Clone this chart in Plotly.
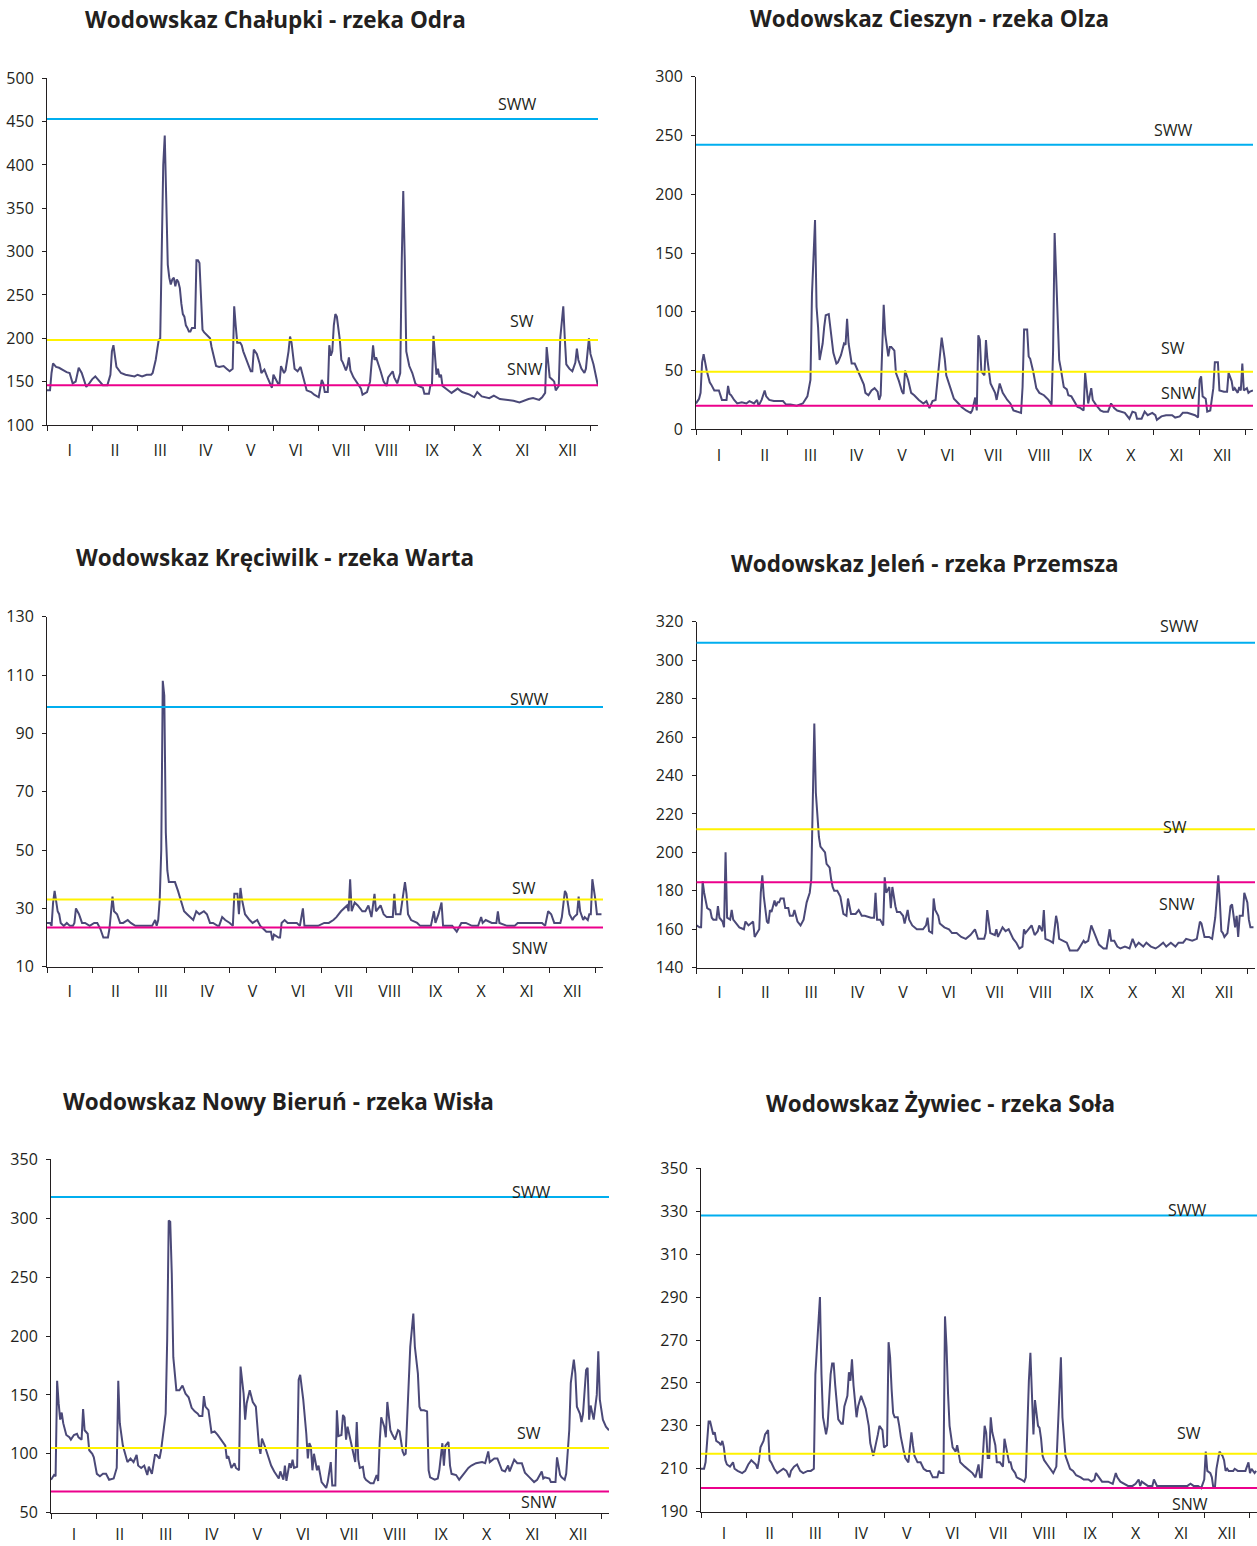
import plotly.graph_objects as go

MONTHS = ["I", "II", "III", "IV", "V", "VI", "VII", "VIII", "IX", "X", "XI", "XII"]
MONTH_CENTERS = [15, 45, 75, 105, 135, 165, 195, 225, 255, 285, 315, 345]
MONTH_BOUNDS = [0, 30, 60, 90, 120, 150, 180, 210, 240, 270, 300, 330, 360]

# ---------------- Chałupki - Odra ----------------
odra_days = [0, 2, 3, 4, 6, 8, 11, 13, 15, 17, 19, 21, 23, 26, 28, 30, 32, 34, 37, 40, 42, 43, 44, 46, 49, 52, 55, 58, 60, 63, 66, 69, 70, 72, 74, 75, 76, 77, 78, 79, 80, 81, 82, 83, 84, 85, 86, 87, 88, 89, 90, 91, 92, 93, 94, 95, 96, 97, 98, 99, 100, 101, 102, 103, 104, 105, 107, 108, 109, 110, 111, 112, 114, 117, 119, 121, 123, 124, 125, 126, 128, 129, 130, 132, 133, 135, 136, 137, 139, 141, 142, 144, 146, 148, 149, 150, 151, 153, 154, 155, 157, 158, 160, 161, 162, 164, 166, 168, 169, 171, 172, 175, 177, 180, 181, 182, 183, 184, 186, 187, 188, 189, 190, 191, 192, 194, 195, 196, 198, 199, 200, 201, 203, 206, 208, 209, 212, 214, 216, 217, 218, 221, 223, 225, 226, 229, 230, 232, 234, 235, 236, 237, 238, 240, 242, 244, 246, 249, 250, 253, 254, 255, 256, 258, 259, 260, 261, 262, 266, 268, 272, 275, 280, 283, 285, 288, 293, 296, 300, 304, 309, 313, 316, 319, 322, 326, 328, 330, 331, 332, 333, 335, 336, 337, 339, 340, 342, 343, 344, 346, 348, 350, 351, 352, 354, 356, 357, 359, 360, 362, 364, 365]
odra_level = [140, 140, 160, 171, 167, 166, 163, 161, 160, 148, 150, 166, 160, 144, 148, 153, 156, 152, 146, 146, 158, 185, 192, 167, 160, 158, 157, 156, 158, 156, 158, 158, 160, 175, 198, 200, 300, 400, 434, 360, 285, 270, 262, 268, 270, 260, 268, 265, 258, 240, 228, 225, 215, 212, 208, 208, 212, 212, 212, 290, 290, 287, 245, 210, 207, 205, 202, 200, 190, 182, 178, 168, 167, 168, 165, 162, 165, 237, 215, 195, 195, 192, 185, 175, 170, 162, 162, 187, 182, 170, 160, 164, 155, 148, 143, 158, 155, 148, 148, 168, 160, 163, 185, 202, 195, 165, 162, 167, 160, 148, 140, 138, 135, 132, 140, 152, 148, 138, 138, 192, 180, 185, 215, 228, 225, 198, 175, 172, 163, 168, 178, 163, 155, 148, 142, 135, 138, 150, 192, 175, 178, 162, 150, 145, 155, 162, 155, 148, 160, 290, 370, 290, 185, 168, 160, 148, 145, 143, 136, 136, 146, 146, 203, 158, 165, 155, 158, 145, 140, 137, 142, 138, 135, 132, 138, 133, 131, 134, 130, 129, 128, 126, 128, 130, 131, 129, 132, 137, 190, 170, 155, 152, 150, 140, 145, 200, 237, 200, 170, 165, 162, 172, 188, 175, 165, 160, 165, 200, 182, 170, 155, 145]
odra_refs = [453, 198, 146]  # SWW, SW, SNW

# ---------------- Cieszyn - Olza ----------------
olza_days = [0, 2, 3, 4, 5, 6, 7, 8, 9, 10, 12, 15, 16, 17, 20, 21, 22, 23, 25, 27, 30, 33, 35, 38, 40, 41, 43, 45, 46, 48, 51, 57, 59, 62, 66, 70, 73, 74, 75, 76, 77, 78, 79, 80, 81, 82, 83, 84, 85, 87, 88, 89, 90, 92, 93, 95, 97, 98, 99, 100, 101, 102, 104, 106, 108, 110, 111, 113, 115, 117, 119, 120, 121, 123, 124, 126, 127, 128, 130, 131, 133, 135, 136, 137, 139, 141, 143, 146, 149, 151, 153, 155, 157, 158, 160, 161, 163, 164, 167, 169, 172, 174, 177, 180, 181, 183, 184, 185, 186, 187, 189, 190, 191, 193, 196, 197, 199, 201, 204, 206, 208, 211, 213, 214, 215, 217, 218, 219, 221, 223, 225, 228, 231, 233, 234, 235, 237, 238, 239, 241, 243, 244, 246, 249, 250, 252, 254, 255, 256, 257, 259, 260, 262, 265, 267, 270, 272, 274, 276, 279, 281, 284, 286, 288, 289, 292, 294, 296, 299, 301, 302, 305, 308, 312, 314, 317, 319, 322, 324, 327, 329, 330, 331, 332, 334, 335, 337, 338, 339, 340, 342, 343, 346, 348, 349, 351, 352, 353, 355, 356, 357, 358, 359, 361, 362, 363, 365]
olza_level = [22, 26, 31, 57, 64, 55, 50, 45, 40, 38, 33, 33, 29, 25, 25, 37, 30, 29, 25, 22, 23, 22, 24, 22, 25, 20, 25, 33, 28, 25, 24, 24, 21, 21, 20, 22, 28, 35, 42, 115, 155, 178, 104, 87, 59, 67, 73, 87, 97, 98, 87, 81, 65, 56, 57, 63, 73, 72, 94, 73, 65, 56, 56, 50, 45, 38, 31, 29, 33, 35, 32, 25, 29, 106, 81, 62, 70, 70, 67, 48, 41, 32, 30, 50, 42, 31, 29, 25, 22, 24, 18, 24, 25, 38, 62, 78, 60, 46, 34, 26, 22, 19, 16, 14, 16, 27, 16, 80, 76, 49, 46, 76, 59, 39, 31, 25, 39, 31, 25, 22, 16, 15, 14, 36, 85, 85, 62, 60, 49, 35, 31, 29, 25, 21, 67, 167, 87, 59, 52, 36, 34, 29, 28, 22, 19, 18, 16, 48, 34, 22, 35, 25, 21, 16, 15, 15, 22, 18, 16, 15, 14, 9, 15, 14, 9, 9, 15, 12, 14, 12, 8, 11, 12, 12, 10, 11, 14, 14, 13, 12, 10, 42, 45, 28, 26, 15, 16, 28, 35, 57, 57, 33, 32, 32, 48, 41, 33, 35, 31, 36, 33, 56, 33, 35, 31, 32, 33]
olza_refs = [242, 49, 20]

# ---------------- Kręciwilk - Warta ----------------
warta_days = [0, 2, 3, 4, 5, 6, 7, 8, 9, 11, 13, 15, 17, 18, 19, 21, 23, 25, 28, 31, 33, 35, 37, 40, 41, 43, 44, 46, 48, 50, 53, 55, 58, 63, 69, 71, 72, 73, 74, 75, 76, 77, 78, 79, 80, 82, 84, 86, 87, 88, 90, 92, 94, 96, 98, 100, 103, 105, 107, 109, 112, 113, 115, 117, 120, 122, 123, 125, 126, 127, 128, 129, 130, 133, 135, 138, 140, 142, 144, 147, 148, 149, 152, 153, 154, 156, 158, 160, 164, 166, 168, 169, 173, 178, 182, 185, 188, 190, 193, 195, 197, 198, 199, 200, 202, 204, 207, 209, 211, 213, 215, 216, 219, 221, 223, 227, 228, 229, 232, 235, 236, 237, 239, 243, 245, 248, 252, 254, 255, 257, 259, 260, 262, 266, 269, 270, 272, 275, 279, 283, 285, 286, 288, 292, 295, 296, 297, 302, 307, 309, 315, 320, 325, 327, 329, 331, 333, 337, 338, 340, 341, 343, 345, 346, 348, 349, 350, 352, 353, 355, 356, 357, 358, 360, 361, 363, 364]
warta_level = [25, 25, 24, 32, 36, 33, 29, 28, 25, 24, 25, 24, 24, 25, 30, 28, 25, 25, 24, 25, 25, 23, 20, 20, 23, 34, 29, 28, 25, 25, 26, 25, 24, 24, 24, 26, 24, 26, 33, 50, 108, 103, 56, 43, 39, 39, 39, 36, 34, 32, 29, 28, 27, 26, 29, 28, 29, 28, 25, 25, 24, 24, 27, 26, 25, 24, 35, 35, 28, 37, 33, 31, 28, 26, 25, 26, 24, 23, 22, 22, 19, 21, 20, 20, 25, 26, 25, 25, 25, 24, 30, 24, 24, 24, 25, 25, 26, 27, 29, 30, 31, 29, 40, 29, 32, 31, 29, 29, 31, 27, 35, 29, 31, 28, 27, 27, 35, 28, 28, 39, 35, 28, 26, 25, 24, 24, 24, 29, 25, 28, 32, 24, 24, 24, 22, 23, 25, 25, 24, 24, 27, 25, 26, 25, 25, 29, 25, 24, 24, 25, 25, 25, 25, 24, 29, 28, 25, 25, 27, 36, 35, 28, 26, 27, 28, 34, 29, 26, 27, 26, 28, 28, 40, 33, 28, 28, 28]
warta_refs = [99, 33, 23.4]

# ---------------- Jeleń - Przemsza ----------------
przemsza_days = [0, 2, 3, 4, 5, 6, 7, 9, 10, 11, 13, 14, 15, 17, 18, 19, 20, 22, 23, 24, 26, 28, 31, 32, 34, 37, 38, 40, 41, 42, 43, 44, 46, 47, 48, 49, 51, 52, 53, 54, 55, 57, 58, 60, 61, 63, 64, 66, 68, 70, 71, 72, 74, 75, 76, 77, 78, 79, 80, 81, 84, 85, 87, 88, 89, 90, 92, 94, 96, 98, 99, 101, 104, 106, 108, 110, 114, 116, 117, 118, 120, 122, 123, 124, 126, 127, 128, 130, 131, 133, 135, 136, 138, 139, 141, 144, 148, 150, 151, 152, 154, 155, 156, 158, 159, 162, 165, 167, 170, 173, 176, 179, 181, 182, 184, 188, 189, 190, 192, 195, 196, 197, 200, 201, 202, 204, 205, 207, 209, 211, 213, 214, 215, 217, 219, 221, 223, 224, 226, 227, 228, 231, 233, 235, 236, 237, 240, 242, 244, 247, 249, 250, 253, 254, 256, 258, 259, 261, 263, 266, 268, 270, 271, 273, 275, 277, 280, 283, 285, 287, 289, 292, 294, 297, 300, 302, 305, 307, 310, 313, 315, 318, 320, 324, 327, 329, 330, 332, 335, 337, 339, 340, 341, 342, 343, 344, 345, 347, 348, 349, 350, 352, 353, 354, 355, 357, 358, 360, 361, 362, 364]
przemsza_level = [162, 161, 161, 185, 179, 174, 171, 170, 166, 165, 165, 172, 166, 164, 161, 200, 166, 165, 170, 165, 163, 161, 160, 164, 162, 164, 156, 159, 160, 179, 188, 177, 164, 163, 170, 169, 175, 172, 174, 174, 176, 176, 171, 171, 167, 167, 170, 164, 162, 165, 170, 174, 179, 186, 227, 267, 231, 219, 208, 203, 200, 194, 192, 186, 182, 180, 180, 177, 168, 167, 176, 168, 168, 170, 167, 167, 166, 166, 179, 165, 165, 162, 187, 179, 182, 171, 182, 172, 169, 169, 167, 163, 170, 165, 162, 160, 160, 162, 166, 159, 158, 176, 170, 167, 163, 161, 160, 158, 158, 156, 155, 157, 159, 160, 155, 155, 158, 170, 158, 157, 160, 156, 161, 160, 159, 160, 158, 155, 153, 150, 151, 160, 158, 160, 162, 157, 159, 162, 159, 170, 155, 154, 153, 167, 163, 155, 154, 153, 149, 149, 149, 150, 154, 153, 154, 162, 160, 156, 152, 150, 150, 160, 154, 154, 151, 150, 151, 150, 155, 151, 153, 151, 153, 151, 150, 151, 153, 151, 153, 151, 153, 153, 155, 154, 155, 164, 163, 156, 156, 155, 166, 176, 188, 175, 159, 158, 156, 158, 166, 172, 173, 161, 167, 156, 167, 167, 179, 174, 165, 161, 161]
przemsza_refs = [309, 212, 184.5]

# ---------------- Nowy Bieruń - Wisła ----------------
wisla_days = [0, 2, 3, 4, 5, 6, 7, 8, 10, 12, 13, 15, 17, 18, 20, 21, 22, 24, 25, 27, 28, 30, 32, 34, 36, 38, 41, 43, 44, 45, 47, 49, 50, 52, 54, 56, 57, 59, 61, 63, 64, 66, 68, 69, 71, 72, 73, 75, 76, 77, 78, 79, 80, 82, 84, 86, 88, 90, 92, 94, 96, 97, 99, 100, 101, 103, 105, 107, 109, 111, 114, 115, 116, 118, 120, 121, 123, 124, 126, 127, 128, 130, 132, 134, 136, 137, 138, 140, 142, 144, 146, 149, 150, 152, 153, 154, 156, 157, 158, 159, 161, 162, 163, 165, 167, 168, 169, 170, 171, 172, 174, 175, 177, 179, 180, 181, 183, 184, 186, 187, 188, 190, 191, 192, 193, 194, 196, 197, 198, 199, 200, 201, 202, 204, 205, 206, 209, 211, 213, 214, 215, 216, 218, 219, 220, 222, 223, 225, 227, 228, 230, 231, 232, 233, 235, 237, 238, 240, 241, 242, 244, 246, 247, 248, 251, 253, 254, 256, 257, 258, 260, 261, 262, 265, 267, 270, 273, 275, 278, 282, 284, 286, 287, 290, 292, 295, 297, 299, 300, 303, 305, 308, 310, 313, 316, 318, 321, 322, 323, 326, 327, 330, 331, 333, 334, 336, 337, 339, 340, 342, 343, 344, 346, 347, 348, 350, 351, 352, 353, 355, 356, 357, 358, 359, 361, 363, 365]
wisla_level = [78, 82, 81, 162, 143, 129, 135, 126, 116, 114, 112, 116, 117, 114, 112, 138, 120, 117, 103, 100, 97, 83, 81, 83, 83, 78, 79, 88, 162, 126, 107, 99, 93, 96, 93, 99, 90, 88, 90, 82, 89, 83, 99, 99, 96, 103, 113, 134, 197, 298, 297, 253, 182, 154, 154, 158, 151, 148, 139, 136, 134, 132, 132, 149, 140, 137, 118, 119, 116, 112, 107, 96, 98, 88, 92, 88, 86, 174, 151, 129, 143, 154, 144, 140, 107, 100, 113, 106, 98, 90, 85, 79, 85, 78, 90, 77, 92, 88, 95, 88, 89, 163, 167, 146, 117, 96, 109, 106, 86, 100, 86, 90, 76, 72, 71, 76, 93, 73, 73, 137, 115, 116, 133, 131, 112, 123, 110, 103, 99, 93, 127, 95, 88, 89, 80, 78, 75, 75, 82, 77, 110, 131, 123, 114, 144, 120, 117, 112, 120, 119, 102, 99, 100, 131, 191, 219, 191, 168, 140, 137, 137, 136, 86, 80, 78, 79, 86, 109, 90, 107, 110, 90, 83, 82, 78, 83, 88, 90, 92, 93, 92, 102, 93, 96, 96, 86, 85, 90, 85, 95, 92, 92, 84, 80, 76, 78, 85, 79, 80, 79, 76, 76, 97, 82, 80, 78, 83, 120, 160, 180, 168, 140, 134, 127, 134, 171, 173, 129, 141, 129, 140, 150, 187, 146, 129, 123, 120]
wisla_refs = [318, 105, 68]

# ---------------- Żywiec - Soła ----------------
sola_days = [0, 2, 3, 4, 5, 6, 8, 9, 10, 12, 13, 14, 15, 16, 17, 19, 21, 22, 24, 27, 29, 31, 33, 36, 37, 38, 39, 41, 42, 44, 45, 46, 48, 50, 52, 54, 56, 58, 59, 61, 63, 65, 67, 70, 72, 74, 75, 77, 78, 79, 80, 82, 83, 84, 85, 86, 87, 88, 89, 90, 92, 93, 94, 96, 97, 98, 99, 100, 102, 103, 105, 106, 108, 110, 111, 113, 114, 116, 117, 119, 120, 122, 123, 124, 125, 126, 127, 129, 130, 131, 133, 134, 136, 138, 139, 140, 142, 144, 146, 148, 150, 152, 155, 156, 157, 159, 160, 161, 162, 163, 165, 167, 168, 169, 170, 173, 176, 178, 180, 181, 182, 183, 184, 186, 187, 188, 189, 190, 191, 193, 194, 196, 198, 199, 201, 202, 203, 204, 206, 207, 210, 212, 213, 214, 215, 216, 218, 219, 220, 221, 222, 223, 224, 225, 227, 229, 231, 233, 234, 236, 237, 238, 239, 240, 242, 244, 246, 249, 251, 254, 256, 258, 259, 261, 263, 267, 270, 272, 273, 275, 278, 280, 283, 285, 287, 288, 289, 291, 293, 296, 297, 299, 301, 305, 310, 315, 319, 321, 323, 326, 328, 329, 330, 331, 332, 334, 335, 336, 337, 338, 340, 342, 343, 344, 345, 346, 348, 349, 350, 352, 353, 355, 357, 359, 360, 361, 363, 364]
sola_level = [210, 210, 213, 225, 232, 232, 226, 227, 223, 222, 221, 223, 220, 214, 212, 211, 213, 210, 209, 208, 209, 212, 214, 212, 210, 214, 220, 223, 226, 228, 214, 213, 210, 208, 209, 210, 209, 206, 209, 211, 212, 209, 208, 209, 209, 210, 254, 282, 290, 254, 234, 226, 230, 242, 254, 259, 259, 249, 240, 233, 231, 231, 239, 244, 255, 251, 261, 249, 234, 239, 244, 242, 238, 230, 222, 216, 219, 226, 230, 228, 220, 221, 269, 262, 247, 236, 234, 234, 230, 225, 218, 215, 213, 227, 221, 216, 213, 213, 210, 209, 209, 206, 206, 209, 208, 208, 281, 267, 245, 230, 220, 218, 221, 217, 213, 211, 209, 208, 206, 209, 212, 206, 206, 230, 227, 215, 215, 234, 227, 221, 213, 213, 211, 224, 216, 213, 213, 210, 208, 206, 205, 204, 206, 231, 251, 264, 226, 242, 237, 230, 229, 224, 216, 214, 212, 210, 208, 211, 227, 262, 234, 223, 216, 214, 210, 209, 207, 206, 205, 205, 204, 205, 208, 206, 204, 204, 203, 208, 206, 204, 203, 202, 202, 203, 205, 202, 204, 203, 202, 202, 205, 202, 202, 202, 202, 202, 202, 203, 202, 202, 201, 203, 205, 218, 209, 208, 206, 201, 201, 210, 218, 216, 214, 209, 210, 209, 209, 209, 210, 209, 209, 209, 209, 213, 208, 210, 208, 209]
sola_refs = [328, 217, 201]

REF_NAMES = ["SWW", "SW", "SNW"]

# ---------------- styling ----------------
FONT = "Open Sans"
TXT = "#231f20"
DATA_COLOR = "#4b4978"
REF_COLORS = ["#00aeef", "#fff200", "#ec008c"]
W, H = 1257, 1546

panels = [
    dict(title="Wodowskaz Chałupki - rzeka Odra", days=odra_days, level=odra_level, refs=odra_refs,
         px=(47, 598), py=(78.3, 425), yr=(100, 500), dt=50, xmax=365, tpos=(275, 20), so=11,
         lab=[(312, 470), (314.6, 220), (316.6, 164.7)]),
    dict(title="Wodowskaz Cieszyn - rzeka Olza", days=olza_days, level=olza_level, refs=olza_refs,
         px=(696, 1253), py=(76.7, 429.3), yr=(0, 300), dt=50, xmax=365, tpos=(929, 18), so=11,
         lab=[(313, 254.6), (312.4, 69.2), (316.5, 30.9)]),
    dict(title="Wodowskaz Kręciwilk - rzeka Warta", days=warta_days, level=warta_level, refs=warta_refs,
         px=(47, 603), py=(616.7, 966.7), yr=(10, 130), dt=20, xmax=365, tpos=(275, 558), so=10,
         lab=[(317, 101.8), (313, 37), (317, 16.4)]),
    dict(title="Wodowskaz Jeleń - rzeka Przemsza", days=przemsza_days, level=przemsza_level, refs=przemsza_refs,
         px=(696.5, 1255), py=(621.7, 967.7), yr=(140, 320), dt=20, xmax=365, tpos=(925, 563), so=10,
         lab=[(315.4, 317.8), (312.7, 213.2), (314, 173.1)]),
    dict(title="Wodowskaz Nowy Bieruń - rzeka Wisła", days=wisla_days, level=wisla_level, refs=wisla_refs,
         px=(51, 609), py=(1159.3, 1512.7), yr=(50, 350), dt=50, xmax=365, tpos=(278, 1101), so=7,
         lab=[(314.4, 322.2), (312.4, 117.7), (319, 59)]),
    dict(title="Wodowskaz Żywiec - rzeka Soła", days=sola_days, level=sola_level, refs=sola_refs,
         px=(701, 1257), py=(1168.3, 1511.7), yr=(190, 350), dt=20, xmax=364.6, tpos=(940, 1103), so=7,
         lab=[(319.3, 330.6), (320, 226.7), (320.7, 193.6)]),
]

fig = go.Figure()
layout = dict(
    width=W, height=H, margin=dict(l=0, r=0, t=0, b=0, pad=0, autoexpand=False),
    paper_bgcolor="white", plot_bgcolor="white", showlegend=False,
    font=dict(family=FONT, color=TXT),
)
shapes, annotations = [], []

for i, p in enumerate(panels, start=1):
    xa = "x" if i == 1 else f"x{i}"
    ya = "y" if i == 1 else f"y{i}"
    fig.add_trace(go.Scatter(
        x=p["days"], y=p["level"], mode="lines", xaxis=xa, yaxis=ya,
        line=dict(color=DATA_COLOR, width=2), hoverinfo="skip",
    ))
    xkey = "xaxis" if i == 1 else f"xaxis{i}"
    ykey = "yaxis" if i == 1 else f"yaxis{i}"
    layout[xkey] = dict(
        domain=[p["px"][0] / W, p["px"][1] / W], anchor=ya, automargin=False,
        range=[0, p["xmax"]], showgrid=False, zeroline=False,
        showline=True, linecolor=TXT, linewidth=1,
        tickmode="array", tickvals=MONTH_CENTERS, ticktext=MONTHS,
        ticks="", ticklabelstandoff=p["so"],
        tickfont=dict(family=FONT, size=16, color=TXT),
        minor=dict(tickmode="array", tickvals=MONTH_BOUNDS, ticks="outside",
                   ticklen=5, tickcolor=TXT, tickwidth=1, showgrid=False),
    )
    layout[ykey] = dict(
        domain=[1 - p["py"][1] / H, 1 - p["py"][0] / H], anchor=xa, automargin=False,
        range=list(p["yr"]), dtick=p["dt"], tick0=p["yr"][0],
        showgrid=False, zeroline=False,
        showline=True, linecolor=TXT, linewidth=1,
        ticks="outside", ticklen=4, tickcolor=TXT, tickwidth=1,
        ticklabelstandoff=5,
        tickfont=dict(family=FONT, size=16, color=TXT),
    )
    for ref, col in zip(p["refs"], REF_COLORS):
        shapes.append(dict(
            type="line", xref=f"{xa} domain", x0=0, x1=1, yref=ya, y0=ref, y1=ref,
            line=dict(color=col, width=2), layer="above",
        ))
    for name, (lx, ly) in zip(REF_NAMES, p["lab"]):
        annotations.append(dict(
            x=lx, y=ly, xref=xa, yref=ya, text=name, showarrow=False,
            font=dict(family=FONT, size=16, color=TXT), xanchor="center", yanchor="middle",
        ))
    annotations.append(dict(
        x=p["tpos"][0] / W, y=1 - p["tpos"][1] / H, xref="paper", yref="paper",
        text=f"<b>{p['title']}</b>", showarrow=False,
        font=dict(family=FONT, size=22.5, color=TXT), xanchor="center", yanchor="middle",
    ))

layout["shapes"] = shapes
layout["annotations"] = annotations
fig.update_layout(**layout)
fig.write_html("out.html")
